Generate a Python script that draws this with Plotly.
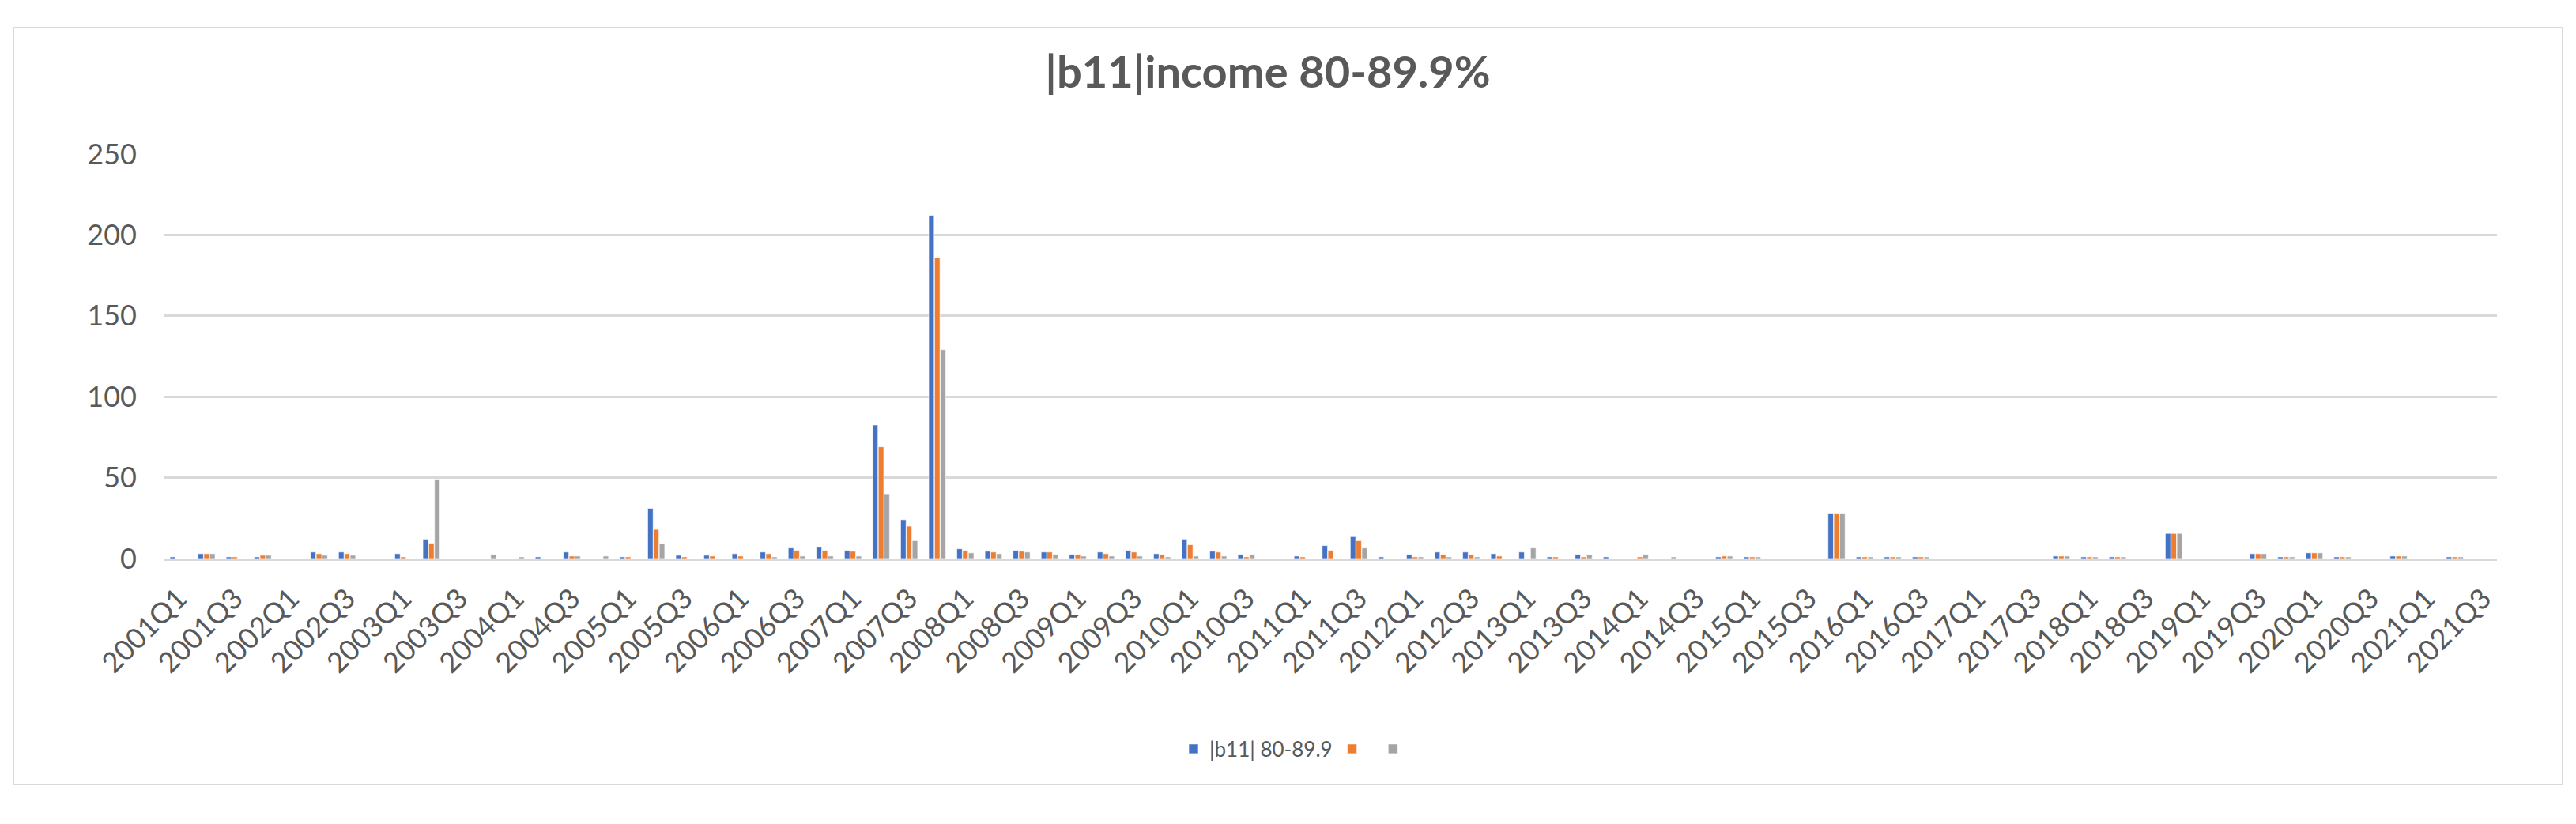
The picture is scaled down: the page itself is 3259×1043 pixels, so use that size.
import plotly.graph_objects as go

# categories (quarters) and the three series
quarters = [
    "2001Q1", "2001Q2", "2001Q3", "2001Q4", "2002Q1", "2002Q2", "2002Q3", "2002Q4",
    "2003Q1", "2003Q2", "2003Q3", "2003Q4", "2004Q1", "2004Q2", "2004Q3", "2004Q4",
    "2005Q1", "2005Q2", "2005Q3", "2005Q4", "2006Q1", "2006Q2", "2006Q3", "2006Q4",
    "2007Q1", "2007Q2", "2007Q3", "2007Q4", "2008Q1", "2008Q2", "2008Q3", "2008Q4",
    "2009Q1", "2009Q2", "2009Q3", "2009Q4", "2010Q1", "2010Q2", "2010Q3", "2010Q4",
    "2011Q1", "2011Q2", "2011Q3", "2011Q4", "2012Q1", "2012Q2", "2012Q3", "2012Q4",
    "2013Q1", "2013Q2", "2013Q3", "2013Q4", "2014Q1", "2014Q2", "2014Q3", "2014Q4",
    "2015Q1", "2015Q2", "2015Q3", "2015Q4", "2016Q1", "2016Q2", "2016Q3", "2016Q4",
    "2017Q1", "2017Q2", "2017Q3", "2017Q4", "2018Q1", "2018Q2", "2018Q3", "2018Q4",
    "2019Q1", "2019Q2", "2019Q3", "2019Q4", "2020Q1", "2020Q2", "2020Q3", "2020Q4",
    "2021Q1", "2021Q2", "2021Q3",
]

series_blue = [
    1, 3, 1, 1, 0, 4, 4, 0,
    3, 12, 0, 0, 0, 1, 4, 0,
    1, 31, 2, 2, 3, 4, 6.5, 7,
    5, 82.5, 24, 212, 6, 4.5, 5, 4,
    2.5, 4, 5, 3, 12, 4.5, 2.5, 0,
    1.5, 8, 13.5, 1, 2.5, 4, 4, 3,
    4, 1, 2.5, 1, 0, 0, 0, 1,
    1, 0, 0, 28, 1, 1, 1, 0,
    0, 0, 0, 1.5, 1, 1, 0, 15.5,
    0, 0, 3, 1, 3.5, 1, 0, 1.5,
    0, 1, 0,
]
series_orange = [
    0, 3, 1, 2, 0, 3, 3, 0,
    1, 9.5, 0, 0, 0, 0, 1.5, 0,
    1, 18, 1, 1.5, 1.5, 3, 5, 5,
    4.5, 69, 20, 186, 5, 4, 4.5, 4,
    2.5, 3, 4, 2.5, 8.5, 4, 1, 0,
    1, 5, 11, 0, 1, 2.5, 2.5, 1.5,
    0, 1, 1, 0, 1, 0, 0, 1.5,
    1, 0, 0, 28, 1, 1, 1, 0,
    0, 0, 0, 1.5, 1, 1, 0, 15.5,
    0, 0, 3, 1, 3.5, 1, 0, 1.5,
    0, 1, 0,
]
series_gray = [
    0, 3, 0, 2, 0, 2, 2, 0,
    0, 49, 0, 2.5, 1, 0, 1.5, 1.5,
    0, 9, 0, 0, 0, 1, 1.5, 1.5,
    1.5, 40, 11, 129, 3.5, 3, 4, 2.5,
    1.5, 1.5, 1.5, 1, 1.5, 1.5, 2.5, 0,
    0, 0, 6.5, 0, 1, 1, 1, 0,
    6.5, 0, 2.5, 0, 2.5, 1, 0, 1.5,
    1, 0, 0, 28, 1, 1, 1, 0,
    0, 0, 0, 1.5, 1, 1, 0, 15.5,
    0, 0, 3, 1, 3.5, 1, 0, 1.5,
    0, 1, 0,
]

series_names = ["|b11| 80-89.9", " ", " "]
series_colors = ["#4472C4", "#ED7D31", "#A5A5A5"]
tick_labels = quarters[::2]
y_ticks = [0, 50, 100, 150, 200, 250]

FONT = "Lato, 'Open Sans', sans-serif"
TEXT = "#595959"
GRID = "#D9D9D9"

fig = go.Figure()
for name, values, color in zip(series_names, [series_blue, series_orange, series_gray], series_colors):
    fig.add_trace(go.Bar(
        x=quarters,
        y=values,
        name=name,
        marker=dict(color=color, line=dict(width=0.6, color="white")),
    ))

fig.update_layout(
    width=3259,
    height=1043,
    margin=dict(l=208, r=100, t=195, b=336),
    paper_bgcolor="white",
    plot_bgcolor="white",
    barmode="group",
    bargap=0.38,
    bargroupgap=0.08,
    font=dict(family=FONT, color=TEXT),
    title=dict(
        text="<b>|b11|income 80-89.9%</b>",
        x=1604 / 3259, xref="container", xanchor="center",
        y=1 - 91 / 1043, yref="container", yanchor="middle",
        font=dict(family=FONT, size=56, color=TEXT),
    ),
    xaxis=dict(
        type="category",
        tickmode="array",
        tickvals=tick_labels,
        ticktext=tick_labels,
        tickangle=-45,
        tickfont=dict(size=36, color=TEXT),
        showgrid=False,
        showline=True,
        linecolor=GRID,
        linewidth=3,
        ticks="",
        ticklabelstandoff=12,
    ),
    yaxis=dict(
        range=[0, 250],
        tickmode="array",
        tickvals=y_ticks,
        tickfont=dict(size=36, color=TEXT),
        showgrid=True,
        gridcolor=GRID,
        gridwidth=2.5,
        zeroline=False,
        showline=False,
        ticks="",
        ticklabelstandoff=34,
    ),
    legend=dict(
        orientation="h",
        x=(1642 - 208) / 2951, xanchor="center",
        y=(707 - 948) / 512, yanchor="middle",
        font=dict(size=26, color=TEXT),
        itemwidth=30,
    ),
    shapes=[dict(
        type="rect", xref="paper", yref="paper",
        x0=(17 - 208) / 2951, x1=(3242 - 208) / 2951,
        y0=(707 - 993) / 512, y1=(707 - 35) / 512,
        line=dict(color=GRID, width=2),
        fillcolor="rgba(0,0,0,0)",
        layer="below",
    )],
)

fig.write_html(
    "out.html",
    config={"displayModeBar": False},
    post_script="document.body.style.margin='0';",
)
